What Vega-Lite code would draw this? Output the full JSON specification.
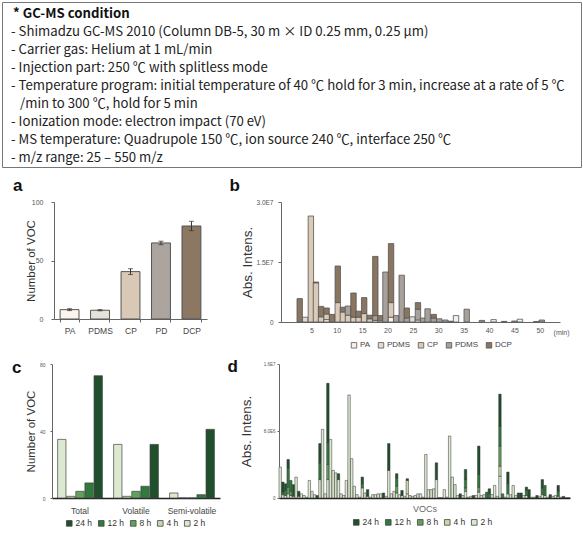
{
  "$schema": "https://vega.github.io/schema/vega-lite/v6.json",
  "background": "white",
  "padding": {"left": 1, "top": 1, "right": 1, "bottom": 1},
  "spacing": 8,
  "datasets": {
    "bseries": [
      {"s": "PA", "k": 1}, {"s": "PDMS", "k": 2}, {"s": "CP", "k": 3}, {"s": "PD", "k": 4}, {"s": "DCP", "k": 5}
    ]
  },
  "resolve": {"scale": {"x": "independent", "y": "independent", "color": "independent"}},
  "vconcat": [
    {
      "width": 579,
      "height": 165,
      "view": {"stroke": "#777", "strokeWidth": 1},
      "data": {"values": [
        {"line": 1, "kind": "head", "text": "* GC-MS condition"},
        {"line": 2, "kind": "item", "text": "- Shimadzu GC-MS 2010 (Column DB-5, 30 m × ID 0.25 mm, 0.25 μm)"},
        {"line": 3, "kind": "item", "text": "- Carrier gas: Helium at 1 mL/min"},
        {"line": 4, "kind": "item", "text": "- Injection part: 250 ℃ with splitless mode"},
        {"line": 5, "kind": "item", "text": "- Temperature program: initial temperature of 40 ℃ hold for 3 min, increase at a rate of 5 ℃"},
        {"line": 6, "kind": "cont", "text": "/min to 300 ℃, hold for 5 min"},
        {"line": 7, "kind": "item", "text": "- Ionization mode: electron impact (70 eV)"},
        {"line": 8, "kind": "item", "text": "- MS temperature: Quadrupole 150 ℃, ion source 240 ℃, interface 250 ℃"},
        {"line": 9, "kind": "item", "text": "- m/z range: 25 – 550 m/z"}
      ]},
      "encoding": {
        "x": {"datum": 0, "type": "quantitative", "scale": {"domain": [0, 1]}, "axis": null},
        "y": {"field": "line", "type": "quantitative", "scale": {"domain": [0.333, 9.5], "reverse": true}, "axis": null},
        "text": {"field": "text"}
      },
      "layer": [
        {"transform": [{"filter": "datum.kind == 'head'"}],
         "mark": {"type": "text", "align": "left", "baseline": "middle", "font": "Noto Sans CJK KR", "fontSize": 13.2, "fontWeight": "bold", "color": "#111", "dx": 11}},
        {"transform": [{"filter": "datum.kind == 'item'"}],
         "mark": {"type": "text", "align": "left", "baseline": "middle", "font": "Noto Sans CJK KR", "fontSize": 13.2, "color": "#222", "dx": 9}},
        {"transform": [{"filter": "datum.kind == 'cont'"}],
         "mark": {"type": "text", "align": "left", "baseline": "middle", "font": "Noto Sans CJK KR", "fontSize": 13.2, "color": "#222", "dx": 18}}
      ]
    },
    {
      "hconcat": [
        {
          "width": 22,
          "height": 117,
          "data": {"values": [{"panel": "a"}]},
          "mark": {"type": "text", "align": "left", "baseline": "alphabetic", "font": "Liberation Sans", "fontSize": 17, "fontWeight": "bold", "color": "#111", "dx": 11, "dy": -11.5},
          "encoding": {
            "x": {"datum": 0, "type": "quantitative", "scale": {"domain": [0, 1]}, "axis": null},
            "y": {"datum": 1, "type": "quantitative", "scale": {"domain": [0, 1]}, "axis": null},
            "text": {"field": "panel"}
          }
        },
        {
          "width": 153,
          "height": 117,
          "data": {"values": [
            {"s": "PA", "n": 8, "lo": 7.2, "hi": 8.8},
            {"s": "PDMS", "n": 7.5, "lo": 7, "hi": 8},
            {"s": "CP", "n": 40.5, "lo": 38, "hi": 43},
            {"s": "PD", "n": 65, "lo": 63.5, "hi": 66.5},
            {"s": "DCP", "n": 79.5, "lo": 75.5, "hi": 83.5}
          ]},
          "layer": [
            {
              "mark": {"type": "bar", "stroke": "#555", "strokeWidth": 1},
              "encoding": {
                "x": {"field": "s", "type": "nominal", "sort": null, "scale": {"paddingInner": 0.38, "paddingOuter": 0.2},
                      "axis": {"title": null, "labelAngle": 0, "labelFontSize": 8.5, "labelColor": "#444", "tickBand": "extent", "tickSize": 3, "labelPadding": 4}},
                "y": {"field": "n", "type": "quantitative", "scale": {"domain": [0, 100]},
                      "axis": {"values": [0, 50, 100], "title": "Number of VOC", "titleFontSize": 11.5, "titleX": -23, "titleY": 58.5, "titleAlign": "center", "titleBaseline": "middle",
                               "labelFontSize": 7, "tickSize": 3, "labelPadding": 8}},
                "color": {"field": "s", "type": "nominal", "scale": {"domain": ["PA", "PDMS", "CP", "PD", "DCP"], "range": ["#fbf4ec", "#e5e1db", "#d9c8b5", "#aca59f", "#8b7762"]}, "legend": null}
              }
            },
            {
              "mark": {"type": "errorbar", "ticks": {"size": 5}, "color": "#333"},
              "encoding": {
                "x": {"field": "s", "type": "nominal", "sort": null},
                "y": {"field": "lo", "type": "quantitative", "title": "Number of VOC"},
                "y2": {"field": "hi"}
              }
            }
          ]
        },
        {
          "width": 26.5,
          "height": 117,
          "data": {"values": [{"panel": "b"}]},
          "mark": {"type": "text", "align": "left", "baseline": "alphabetic", "font": "Liberation Sans", "fontSize": 17, "fontWeight": "bold", "color": "#111", "dx": 22.5, "dy": -11},
          "encoding": {
            "x": {"datum": 0, "type": "quantitative", "scale": {"domain": [0, 1]}, "axis": null},
            "y": {"datum": 1, "type": "quantitative", "scale": {"domain": [0, 1]}, "axis": null},
            "text": {"field": "panel"}
          }
        },
        {
          "width": 279,
          "height": 120,
          "data": {"values": [
            {"t": 2.7, "s": "DCP", "v": 5850000},
            {"t": 3.8, "s": "PDMS", "v": 1200000},
            {"t": 4.9, "s": "CP", "v": 26500000},
            {"t": 5.9, "s": "CP", "v": 9800000}, {"t": 5.9, "s": "DCP", "v": 200000},
            {"t": 6.9, "s": "CP", "v": 1300000}, {"t": 6.9, "s": "DCP", "v": 2600000},
            {"t": 8.0, "s": "PA", "v": 600000}, {"t": 8.0, "s": "CP", "v": 1400000}, {"t": 8.0, "s": "DCP", "v": 1500000},
            {"t": 9.1, "s": "DCP", "v": 1900000},
            {"t": 10.2, "s": "CP", "v": 4850000}, {"t": 10.2, "s": "DCP", "v": 9150000},
            {"t": 11.2, "s": "CP", "v": 2500000}, {"t": 11.2, "s": "DCP", "v": 1200000},
            {"t": 12.2, "s": "CP", "v": 1700000}, {"t": 12.2, "s": "PD", "v": 2300000},
            {"t": 13.3, "s": "CP", "v": 1200000}, {"t": 13.3, "s": "DCP", "v": 6050000},
            {"t": 14.3, "s": "CP", "v": 1200000}, {"t": 14.3, "s": "DCP", "v": 1500000},
            {"t": 15.4, "s": "CP", "v": 2100000}, {"t": 15.4, "s": "DCP", "v": 4000000},
            {"t": 16.5, "s": "CP", "v": 800000}, {"t": 16.5, "s": "DCP", "v": 900000},
            {"t": 17.6, "s": "PA", "v": 400000}, {"t": 17.6, "s": "PD", "v": 1200000}, {"t": 17.6, "s": "DCP", "v": 14800000},
            {"t": 18.6, "s": "PA", "v": 300000}, {"t": 18.6, "s": "DCP", "v": 1300000},
            {"t": 19.6, "s": "PD", "v": 12500000},
            {"t": 20.7, "s": "PA", "v": 1200000}, {"t": 20.7, "s": "CP", "v": 3650000}, {"t": 20.7, "s": "DCP", "v": 14750000},
            {"t": 21.7, "s": "PD", "v": 1600000},
            {"t": 22.8, "s": "PD", "v": 11700000},
            {"t": 23.8, "s": "PD", "v": 1000000}, {"t": 23.8, "s": "DCP", "v": 2500000},
            {"t": 24.9, "s": "PDMS", "v": 1300000},
            {"t": 26.0, "s": "PA", "v": 500000}, {"t": 26.0, "s": "PD", "v": 2700000}, {"t": 26.0, "s": "DCP", "v": 1650000},
            {"t": 27.0, "s": "PD", "v": 1000000},
            {"t": 27.9, "s": "PD", "v": 3300000},
            {"t": 29.1, "s": "PD", "v": 1000000}, {"t": 29.1, "s": "DCP", "v": 900000},
            {"t": 30.2, "s": "PD", "v": 800000},
            {"t": 31.4, "s": "PD", "v": 500000},
            {"t": 32.5, "s": "DCP", "v": 200000},
            {"t": 33.5, "s": "PA", "v": 1600000},
            {"t": 35.6, "s": "PD", "v": 3200000},
            {"t": 38.6, "s": "PD", "v": 400000},
            {"t": 40.9, "s": "PA", "v": 600000},
            {"t": 43.0, "s": "DCP", "v": 150000},
            {"t": 45.0, "s": "PD", "v": 250000},
            {"t": 46.1, "s": "PA", "v": 700000},
            {"t": 49.3, "s": "DCP", "v": 100000},
            {"t": 50.4, "s": "PD", "v": 500000}
          ]},
          "transform": [{"lookup": "s", "from": {"data": {"name": "bseries"}, "key": "s", "fields": ["k"]}}],
          "mark": {"type": "bar", "width": 5.4, "stroke": "#555", "strokeWidth": 0.8},
          "encoding": {
            "x": {"field": "t", "type": "quantitative", "scale": {"domain": [0, 53], "nice": false},
                  "axis": {"values": [5, 10, 15, 20, 25, 30, 35, 40, 45, 50], "ticks": false, "labelFontSize": 7, "labelPadding": 4,
                           "title": "(min)", "titleFontSize": 7, "titleColor": "#555", "titleX": 288, "titleY": 12, "titleAlign": "right", "titleBaseline": "alphabetic"}},
            "y": {"field": "v", "type": "quantitative", "scale": {"domain": [0, 30000000]},
                  "axis": {"values": [0, 15000000, 30000000], "labelExpr": "datum.value == 0 ? '0' : replace(format(datum.value, '.1e'), 'e+', 'E')",
                           "title": "Abs. Intens.", "titleFontSize": 13.5, "titleX": -33.5, "titleY": 60, "titleAlign": "center", "titleBaseline": "middle",
                           "labelFontSize": 6.5, "tickSize": 3, "labelPadding": 5}},
            "color": {"field": "s", "type": "nominal", "scale": {"domain": ["PA", "PDMS", "CP", "PD", "DCP"], "range": ["#f7f1ea", "#e0dcd6", "#dccab8", "#a8a19b", "#8a7560"]},
                      "legend": {"title": null, "orient": "none", "legendX": 69, "legendY": 139, "direction": "horizontal", "symbolType": "square", "symbolSize": 30,
                                 "symbolStrokeColor": "#555", "symbolStrokeWidth": 0.8, "labelFontSize": 8, "labelColor": "#444", "columnPadding": 5, "labelOffset": 2,
                                 "labelExpr": "datum.label == 'PD' ? 'PDMS' : datum.label"}},
            "order": {"field": "k", "type": "quantitative"}
          }
        }
      ],
      "spacing": 0,
      "resolve": {"scale": {"x": "independent", "y": "independent", "color": "independent"}}
    },
    {
      "hconcat": [
        {
          "width": 22,
          "height": 134,
          "data": {"values": [{"panel": "c"}]},
          "mark": {"type": "text", "align": "left", "baseline": "alphabetic", "font": "Liberation Sans", "fontSize": 17, "fontWeight": "bold", "color": "#111", "dx": 10, "dy": 9},
          "encoding": {
            "x": {"datum": 0, "type": "quantitative", "scale": {"domain": [0, 1]}, "axis": null},
            "y": {"datum": 1, "type": "quantitative", "scale": {"domain": [0, 1]}, "axis": null},
            "text": {"field": "panel"}
          }
        },
        {
          "width": 168,
          "height": 134,
          "data": {"values": [
            {"g": "Total", "h": 2, "n": 35}, {"g": "Total", "h": 4, "n": 1}, {"g": "Total", "h": 8, "n": 4}, {"g": "Total", "h": 12, "n": 9}, {"g": "Total", "h": 24, "n": 73},
            {"g": "Volatile", "h": 2, "n": 32}, {"g": "Volatile", "h": 4, "n": 1}, {"g": "Volatile", "h": 8, "n": 4}, {"g": "Volatile", "h": 12, "n": 7}, {"g": "Volatile", "h": 24, "n": 32},
            {"g": "Semi-volatile", "h": 2, "n": 3}, {"g": "Semi-volatile", "h": 4, "n": 0}, {"g": "Semi-volatile", "h": 8, "n": 0}, {"g": "Semi-volatile", "h": 12, "n": 2}, {"g": "Semi-volatile", "h": 24, "n": 41}
          ]},
          "mark": {"type": "bar", "stroke": "#444", "strokeWidth": 0.7},
          "encoding": {
            "x": {"field": "g", "type": "nominal", "sort": ["Total", "Volatile", "Semi-volatile"], "scale": {"paddingInner": 0.2, "paddingOuter": 0.1},
                  "axis": {"title": null, "labelAngle": 0, "ticks": false, "labelFontSize": 8.5, "labelColor": "#444", "domainColor": "#222", "domainWidth": 1.5, "labelPadding": 8}},
            "xOffset": {"field": "h", "type": "ordinal", "sort": [2, 4, 8, 12, 24], "scale": {"paddingInner": 0.08}},
            "y": {"field": "n", "type": "quantitative", "scale": {"domain": [0, 80]},
                  "axis": {"values": [0, 40, 80], "title": "Number of VOC", "titleFontSize": 11.5, "titleX": -21, "titleY": 67, "titleAlign": "center", "titleBaseline": "middle",
                           "labelFontSize": 5, "tickSize": 2, "labelPadding": 5}},
            "color": {"field": "h", "type": "ordinal", "scale": {"domain": [24, 12, 8, 4, 2], "range": ["#1f4f2b", "#2e7b3c", "#63a05d", "#c6d9a4", "#dce9d0"]},
                      "legend": {"title": null, "orient": "none", "legendX": 13, "legendY": 155, "direction": "horizontal", "symbolType": "square", "symbolSize": 32,
                                 "symbolStrokeColor": "#444", "symbolStrokeWidth": 0.8, "labelFontSize": 8.5, "labelColor": "#333", "columnPadding": 3, "labelOffset": 2,
                                 "labelExpr": "datum.label + ' h'"}}
          }
        },
        {
          "width": 13,
          "height": 134,
          "data": {"values": [{"panel": "d"}]},
          "mark": {"type": "text", "align": "left", "baseline": "alphabetic", "font": "Liberation Sans", "fontSize": 17, "fontWeight": "bold", "color": "#111", "dx": 7.5, "dy": 8},
          "encoding": {
            "x": {"datum": 0, "type": "quantitative", "scale": {"domain": [0, 1]}, "axis": null},
            "y": {"datum": 1, "type": "quantitative", "scale": {"domain": [0, 1]}, "axis": null},
            "text": {"field": "panel"}
          }
        },
        {
          "width": 291,
          "height": 134,
          "data": {"values": [
            {"i":1,"h":2,"v":3700000},
            {"i":2,"h":2,"v":400000},{"i":2,"h":12,"v":300000},{"i":2,"h":24,"v":1200000},
            {"i":3,"h":2,"v":300000},{"i":3,"h":12,"v":600000},{"i":3,"h":24,"v":800000},
            {"i":4,"h":2,"v":500000},{"i":4,"h":8,"v":800000},{"i":4,"h":12,"v":2300000},{"i":4,"h":24,"v":1000000},
            {"i":5,"h":2,"v":300000},{"i":5,"h":8,"v":500000},{"i":5,"h":12,"v":1300000},
            {"i":6,"h":2,"v":200000},{"i":6,"h":24,"v":1400000},
            {"i":7,"h":2,"v":2500000},
            {"i":8,"h":2,"v":200000},{"i":8,"h":24,"v":600000},
            {"i":9,"h":2,"v":500000},
            {"i":10,"h":2,"v":300000},
            {"i":11,"h":2,"v":100000},
            {"i":12,"h":2,"v":2100000},
            {"i":13,"h":2,"v":800000},
            {"i":14,"h":2,"v":400000},
            {"i":15,"h":24,"v":300000},
            {"i":16,"h":2,"v":2200000},{"i":16,"h":12,"v":2000000},{"i":16,"h":24,"v":2300000},
            {"i":17,"h":2,"v":8200000},
            {"i":18,"h":2,"v":500000},
            {"i":19,"h":2,"v":2200000},{"i":19,"h":8,"v":1800000},{"i":19,"h":12,"v":2600000},{"i":19,"h":24,"v":7100000},
            {"i":20,"h":2,"v":7000000},
            {"i":21,"h":2,"v":3300000},
            {"i":22,"h":2,"v":3000000},
            {"i":23,"h":2,"v":2200000},{"i":23,"h":24,"v":700000},
            {"i":24,"h":2,"v":500000},
            {"i":25,"h":2,"v":300000},
            {"i":26,"h":2,"v":2100000},
            {"i":27,"h":2,"v":12300000},
            {"i":28,"h":2,"v":4700000},
            {"i":29,"h":2,"v":1400000},
            {"i":30,"h":2,"v":400000},
            {"i":31,"h":2,"v":100000},
            {"i":32,"h":2,"v":1200000},{"i":32,"h":12,"v":500000},{"i":32,"h":24,"v":800000},
            {"i":33,"h":2,"v":600000},
            {"i":34,"h":2,"v":200000},{"i":34,"h":24,"v":800000},
            {"i":35,"h":2,"v":100000},
            {"i":36,"h":2,"v":400000},
            {"i":37,"h":2,"v":400000},
            {"i":38,"h":2,"v":500000},
            {"i":39,"h":2,"v":500000},
            {"i":40,"h":24,"v":600000},
            {"i":41,"h":2,"v":200000},
            {"i":42,"h":2,"v":3300000},{"i":42,"h":24,"v":3200000},
            {"i":43,"h":2,"v":500000},
            {"i":44,"h":2,"v":800000},
            {"i":45,"h":2,"v":600000},{"i":45,"h":8,"v":800000},{"i":45,"h":12,"v":1000000},{"i":45,"h":24,"v":500000},
            {"i":46,"h":2,"v":400000},
            {"i":47,"h":2,"v":300000},{"i":47,"h":24,"v":600000},
            {"i":48,"h":2,"v":200000},
            {"i":49,"h":2,"v":500000},{"i":49,"h":4,"v":1600000},{"i":49,"h":24,"v":200000},
            {"i":50,"h":2,"v":300000},
            {"i":51,"h":2,"v":200000},
            {"i":52,"h":2,"v":300000},
            {"i":53,"h":2,"v":500000},
            {"i":54,"h":2,"v":500000},
            {"i":55,"h":2,"v":100000},
            {"i":56,"h":2,"v":5200000},
            {"i":57,"h":2,"v":1000000},
            {"i":58,"h":2,"v":1000000},
            {"i":59,"h":2,"v":1100000},
            {"i":60,"h":2,"v":2200000},{"i":60,"h":24,"v":2000000},
            {"i":61,"h":2,"v":50000},
            {"i":62,"h":2,"v":50000},
            {"i":63,"h":2,"v":1000000},
            {"i":64,"h":2,"v":100000},
            {"i":65,"h":2,"v":7400000},
            {"i":66,"h":2,"v":2500000},
            {"i":67,"h":2,"v":1600000},
            {"i":68,"h":2,"v":300000},
            {"i":69,"h":24,"v":500000},
            {"i":70,"h":2,"v":300000},
            {"i":71,"h":2,"v":800000},{"i":71,"h":8,"v":400000},{"i":71,"h":12,"v":1000000},{"i":71,"h":24,"v":1200000},
            {"i":72,"h":2,"v":100000},
            {"i":73,"h":2,"v":200000},
            {"i":74,"h":24,"v":300000},
            {"i":75,"h":2,"v":300000},
            {"i":76,"h":2,"v":700000},{"i":76,"h":8,"v":600000},{"i":76,"h":12,"v":1500000},{"i":76,"h":24,"v":3400000},
            {"i":77,"h":2,"v":300000},
            {"i":78,"h":2,"v":400000},
            {"i":79,"h":12,"v":700000},
            {"i":80,"h":12,"v":500000},{"i":80,"h":24,"v":600000},
            {"i":81,"h":2,"v":400000},
            {"i":82,"h":2,"v":1500000},
            {"i":83,"h":2,"v":200000},
            {"i":84,"h":2,"v":2600000},{"i":84,"h":4,"v":1200000},{"i":84,"h":8,"v":2400000},{"i":84,"h":12,"v":2400000},{"i":84,"h":24,"v":3800000},
            {"i":85,"h":12,"v":500000},
            {"i":86,"h":2,"v":100000},
            {"i":87,"h":2,"v":500000},{"i":87,"h":12,"v":1200000},{"i":87,"h":24,"v":1400000},
            {"i":88,"h":2,"v":400000},
            {"i":89,"h":2,"v":1500000},
            {"i":90,"h":2,"v":300000},
            {"i":91,"h":24,"v":600000},
            {"i":92,"h":24,"v":600000},
            {"i":93,"h":2,"v":300000},
            {"i":94,"h":2,"v":300000},{"i":94,"h":12,"v":600000},{"i":94,"h":24,"v":400000},
            {"i":95,"h":24,"v":1000000},
            {"i":96,"h":2,"v":100000},
            {"i":97,"h":2,"v":100000},
            {"i":98,"h":24,"v":300000},
            {"i":99,"h":2,"v":200000},
            {"i":100,"h":2,"v":400000},{"i":100,"h":12,"v":800000},{"i":100,"h":24,"v":1000000},
            {"i":101,"h":2,"v":300000},{"i":101,"h":12,"v":1200000},
            {"i":102,"h":2,"v":100000},
            {"i":103,"h":24,"v":400000},
            {"i":104,"h":2,"v":200000},
            {"i":105,"h":2,"v":300000},
            {"i":106,"h":2,"v":200000},{"i":106,"h":12,"v":600000},{"i":106,"h":24,"v":700000},
            {"i":107,"h":2,"v":100000},
            {"i":108,"h":24,"v":200000},
            {"i":109,"h":2,"v":50000},
            {"i":110,"h":2,"v":50000}
          ]},
          "mark": {"type": "bar", "stroke": "#333", "strokeWidth": 0.5},
          "encoding": {
            "x": {"field": "i", "type": "ordinal", "scale": {"paddingInner": 0.08, "paddingOuter": 0},
                  "axis": {"title": "VOCs", "labels": false, "ticks": false, "domainColor": "#222", "domainWidth": 1.5, "titleFontSize": 9, "titleColor": "#666", "titlePadding": 6}},
            "y": {"field": "v", "type": "quantitative", "scale": {"domain": [0, 16000000]},
                  "axis": {"values": [0, 8000000, 16000000], "labelExpr": "datum.value == 0 ? '0' : replace(format(datum.value, '.1e'), 'e+', 'E')",
                           "title": "Abs. Intens.", "titleFontSize": 13.5, "titleX": -33, "titleY": 67, "titleAlign": "center", "titleBaseline": "middle",
                           "labelFontSize": 4.5, "tickSize": 2, "labelPadding": 2}},
            "color": {"field": "h", "type": "ordinal", "scale": {"domain": [24, 12, 8, 4, 2], "range": ["#1f4f2b", "#2e7b3c", "#63a05d", "#c6d9a4", "#dce9d0"]},
                      "legend": {"title": null, "orient": "none", "legendX": 73, "legendY": 154, "direction": "horizontal", "symbolType": "square", "symbolSize": 32,
                                 "symbolStrokeColor": "#444", "symbolStrokeWidth": 0.8, "labelFontSize": 8.5, "labelColor": "#333", "columnPadding": 3, "labelOffset": 2,
                                 "labelExpr": "datum.label + ' h'"}},
            "order": {"field": "h", "type": "quantitative"}
          }
        }
      ],
      "spacing": 0,
      "resolve": {"scale": {"x": "independent", "y": "independent", "color": "independent"}}
    }
  ],
  "config": {
    "font": "Liberation Sans",
    "view": {"stroke": null},
    "axis": {"grid": false, "labelFont": "Liberation Sans", "titleFont": "Liberation Sans", "titleFontWeight": "normal", "titleColor": "#333", "labelColor": "#555", "domainColor": "#666", "tickColor": "#666"},
    "legend": {"labelFont": "Liberation Sans"}
  }
}
